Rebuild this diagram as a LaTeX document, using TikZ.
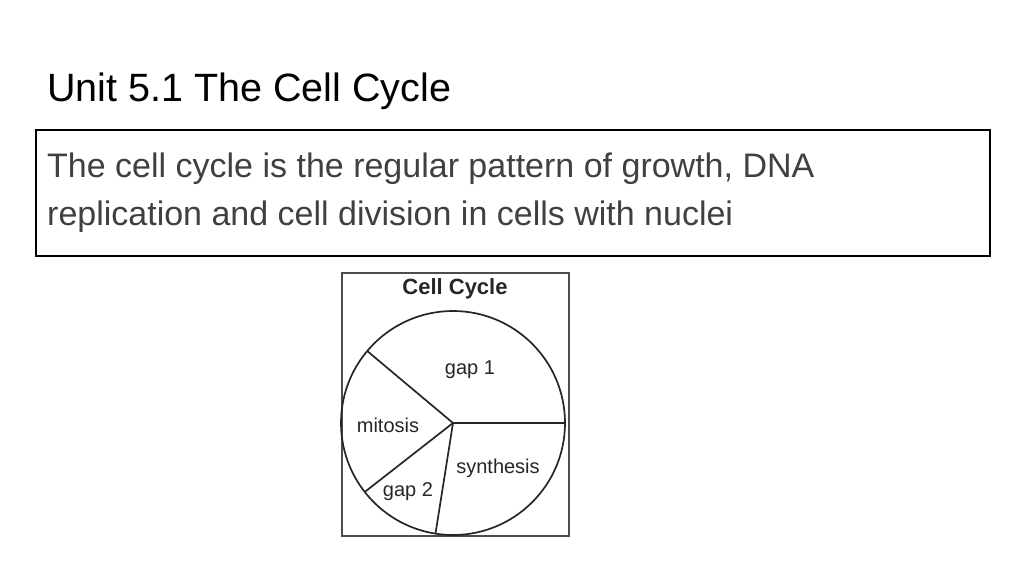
\documentclass[tikz,border=0pt]{standalone}
\usepackage{fontspec}
\setmainfont{Liberation Sans}
\begin{document}
\begin{tikzpicture}[x=1pt,y=-1pt,
  lbl/.style={font=\fontsize{20}{24}\selectfont, inner sep=0pt, text=black!85},
  diag/.style={draw=black!85, line width=1.7pt}]
\useasboundingbox (0,0) rectangle (1024,576);
\node[anchor=base west, inner sep=0pt, font=\fontsize{39.5}{44}\selectfont] (title) at (47,101) {Unit 5.1 The Cell Cycle};
\node[draw, line width=1.6pt, minimum width=954pt, minimum height=126pt, anchor=north west, inner sep=0pt] (defbox) at (35,129) {};
\node[anchor=base west, inner sep=0pt, font=\fontsize{34}{40}\selectfont, text=black!75] (l1) at (47,177) {The cell cycle is the regular pattern of growth, DNA};
\node[anchor=base west, inner sep=0pt, font=\fontsize{34}{40}\selectfont, text=black!75] (l2) at (47,225) {replication and cell division in cells with nuclei};
\node[diag, draw=black!70, minimum width=227pt, minimum height=263pt, anchor=north west, inner sep=0pt] (frame) at (341,272) {};
\node[anchor=base, inner sep=0pt, font=\fontsize{22}{26}\selectfont\bfseries, text=black!85] (ctitle) at (455,294) {Cell Cycle};
\coordinate (c) at (453,423);
\draw[diag] (c) circle[radius=112pt];
\draw[diag] (c) -- (565,423);
\draw[diag] (c) -- ++({112*cos(140)},{-112*sin(140)});
\draw[diag] (c) -- ++({112*cos(218)},{-112*sin(218)});
\draw[diag] (c) -- ++({112*cos(261)},{-112*sin(261)});
\node[lbl] (g1) at (470,370) {gap 1};
\node[lbl] (mi) at (388,425) {mitosis};
\node[lbl] (sy) at (498,468) {synthesis};
\node[lbl] (g2) at (408,492) {gap 2};
\end{tikzpicture}
\end{document}
